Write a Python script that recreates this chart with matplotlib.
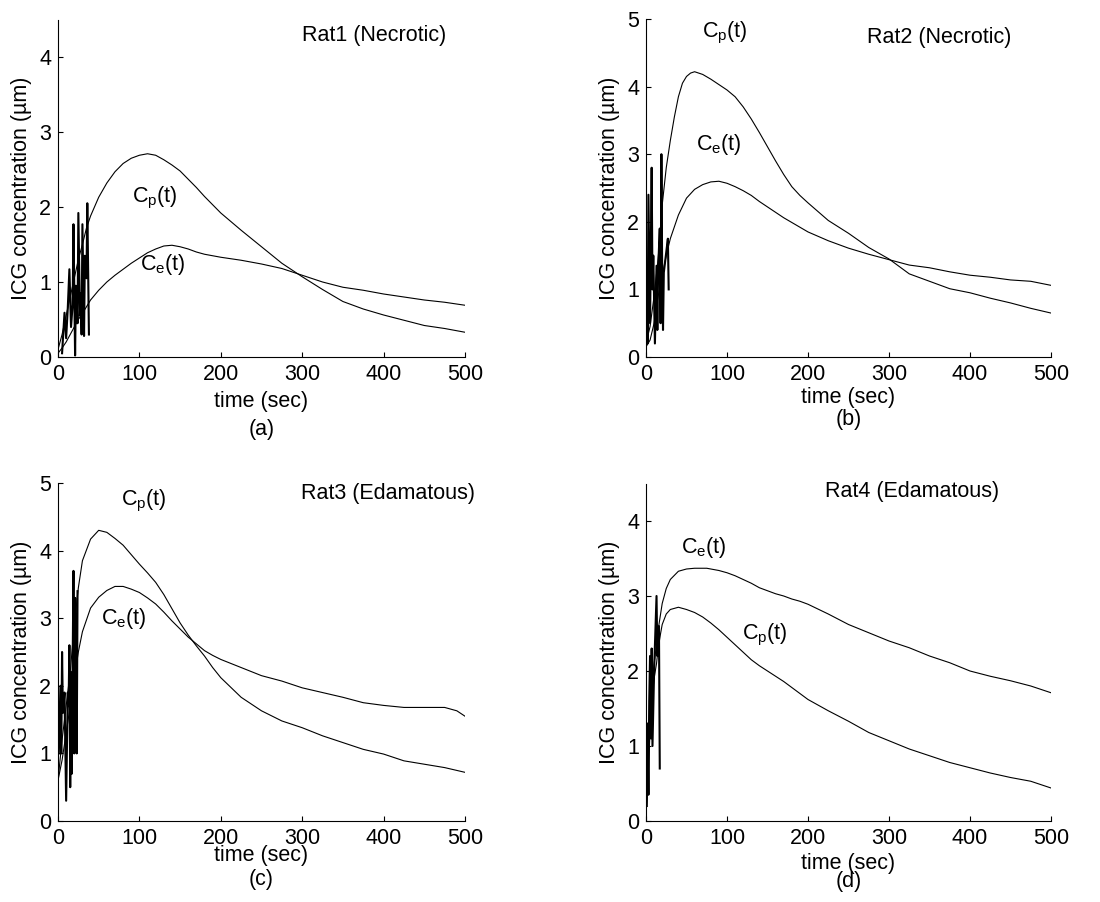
import matplotlib
matplotlib.use('Agg')
import matplotlib.pyplot as plt

plt.rcParams['font.family'] = ['Liberation Sans', 'DejaVu Sans']
plt.rcParams['mathtext.fontset'] = 'custom'
plt.rcParams['mathtext.rm'] = 'Liberation Sans'
plt.rcParams['mathtext.it'] = 'Liberation Sans'

FS = 15.5

# ---- Rat1 (Necrotic) ----
a_t_cp = [0, 5, 10, 15, 20, 25, 30, 35, 40, 50, 60, 70, 80, 90, 100, 110, 120, 130, 140, 150, 160,
          170, 180, 190, 200, 225, 250, 275, 300, 325, 350, 375, 400, 425, 450, 475, 500]
a_cp = [0.10, 0.30, 0.55, 0.80, 1.05, 1.30, 1.50, 1.72, 1.88, 2.13, 2.32, 2.47, 2.58, 2.65, 2.69, 2.71,
        2.69, 2.63, 2.56, 2.48, 2.37, 2.26, 2.14, 2.03, 1.92, 1.69, 1.47, 1.25, 1.07, 0.90, 0.74, 0.64,
        0.56, 0.49, 0.42, 0.38, 0.33]
a_t_ce = [0, 5, 10, 15, 20, 25, 30, 35, 40, 50, 60, 70, 80, 90, 100, 110, 120, 130, 140, 150, 160,
          170, 180, 190, 200, 225, 250, 275, 300, 325, 350, 375, 400, 425, 450, 475, 500]
a_ce = [0.05, 0.12, 0.20, 0.30, 0.40, 0.50, 0.58, 0.67, 0.76, 0.89, 1.00, 1.09, 1.17, 1.25, 1.32, 1.39,
        1.44, 1.48, 1.49, 1.47, 1.44, 1.40, 1.37, 1.35, 1.33, 1.29, 1.24, 1.18, 1.09, 1.00, 0.93, 0.89,
        0.84, 0.80, 0.76, 0.73, 0.69]
a_t_raw = [5, 8, 10, 12, 14, 16, 18, 19, 21, 22, 24, 25, 27, 28, 29, 30, 32, 33, 35, 36, 38]
a_raw = [0.05, 0.59, 0.25, 0.65, 1.17, 0.40, 0.70, 1.77, 0.02, 0.95, 0.45, 1.92, 0.55, 0.85, 0.30,
         1.77, 0.28, 1.35, 1.05, 2.05, 0.30]

# ---- Rat2 (Necrotic) ----
b_t_cp = [0, 5, 10, 15, 20, 25, 30, 35, 40, 45, 50, 55, 60, 70, 80, 90, 100, 110, 120, 130, 140,
          150, 160, 170, 180, 190, 200, 225, 250, 275, 300, 325, 350, 375, 400, 425, 450, 475, 500]
b_cp = [0.20, 0.45, 0.90, 1.45, 2.25, 2.80, 3.20, 3.55, 3.85, 4.05, 4.15, 4.20, 4.22, 4.18, 4.11, 4.03,
        3.95, 3.85, 3.70, 3.52, 3.32, 3.11, 2.90, 2.70, 2.52, 2.39, 2.28, 2.02, 1.83, 1.62, 1.45, 1.23,
        1.12, 1.01, 0.95, 0.87, 0.80, 0.72, 0.65]
b_t_ce = [0, 5, 10, 15, 20, 25, 30, 40, 50, 60, 70, 80, 90, 100, 110, 120, 130, 140, 150, 160, 170,
          180, 190, 200, 225, 250, 275, 300, 325, 350, 375, 400, 425, 450, 475, 500]
b_ce = [0.15, 0.25, 0.50, 0.90, 1.20, 1.50, 1.75, 2.10, 2.35, 2.48, 2.55, 2.59, 2.60, 2.57, 2.52, 2.46,
        2.39, 2.30, 2.22, 2.14, 2.06, 1.99, 1.92, 1.85, 1.72, 1.61, 1.52, 1.44, 1.36, 1.32, 1.26, 1.21,
        1.18, 1.14, 1.12, 1.06]
b_t_raw = [1, 2, 3, 5, 7, 8, 9, 11, 13, 14, 15, 17, 18, 19, 20, 21, 22, 25, 27, 28]
b_raw = [1.0, 0.2, 2.4, 0.5, 2.8, 1.0, 1.5, 0.2, 1.35, 0.4, 1.3, 1.9, 0.5, 3.0, 1.2, 0.4, 1.25,
         1.55, 1.75, 1.0]

# ---- Rat3 (Edamatous) ----
c_t_cp = [0, 5, 10, 15, 20, 25, 30, 40, 50, 60, 70, 80, 90, 100, 110, 120, 130, 140, 150, 160, 170,
          180, 190, 200, 225, 250, 275, 300, 325, 350, 375, 400, 425, 450, 475, 500]
c_cp = [0.60, 1.20, 1.70, 2.20, 2.90, 3.45, 3.85, 4.17, 4.30, 4.27, 4.18, 4.08, 3.94, 3.80, 3.67, 3.53,
        3.35, 3.14, 2.93, 2.75, 2.59, 2.44, 2.27, 2.12, 1.83, 1.63, 1.48, 1.38, 1.26, 1.16, 1.06, 0.99,
        0.89, 0.84, 0.79, 0.72]
c_t_ce = [0, 5, 10, 15, 20, 25, 30, 40, 50, 60, 70, 80, 90, 100, 110, 120, 130, 140, 150, 160, 170,
          180, 190, 200, 225, 250, 275, 300, 325, 350, 375, 400, 425, 450, 475, 490, 500]
c_ce = [0.60, 0.90, 1.30, 1.70, 2.10, 2.50, 2.80, 3.15, 3.31, 3.41, 3.47, 3.47, 3.43, 3.38, 3.30, 3.21,
        3.09, 2.96, 2.84, 2.72, 2.62, 2.52, 2.45, 2.39, 2.27, 2.15, 2.07, 1.97, 1.90, 1.83, 1.75, 1.71,
        1.68, 1.68, 1.68, 1.63, 1.55]
c_t_raw = [1, 3, 4, 5, 6, 8, 10, 12, 13, 14, 15, 16, 17, 18, 19, 20, 21, 22, 23, 24]
c_raw = [1.0, 2.0, 1.0, 2.5, 1.6, 1.9, 0.3, 1.9, 1.7, 2.6, 0.5, 2.2, 0.7, 2.3, 3.7, 1.0, 3.3, 2.3,
         1.0, 3.4]

# ---- Rat4 (Edamatous) ----
d_t_ce = [0, 3, 5, 8, 10, 13, 15, 20, 25, 30, 40, 50, 60, 75, 90, 100, 110, 120, 130, 140, 150, 160,
          170, 180, 190, 200, 225, 250, 275, 300, 325, 350, 375, 400, 425, 450, 475, 500]
d_ce = [0.10, 0.80, 1.40, 1.90, 2.10, 2.35, 2.55, 2.90, 3.10, 3.22, 3.33, 3.36, 3.37, 3.37, 3.34, 3.31,
        3.27, 3.22, 3.17, 3.11, 3.07, 3.03, 3.00, 2.96, 2.93, 2.89, 2.76, 2.62, 2.51, 2.40, 2.31, 2.20,
        2.11, 2.00, 1.93, 1.87, 1.80, 1.71]
d_t_cp = [0, 3, 5, 8, 10, 13, 15, 18, 20, 25, 30, 40, 50, 60, 70, 80, 90, 100, 110, 120, 130, 140,
          150, 160, 170, 180, 190, 200, 225, 250, 275, 300, 325, 350, 375, 400, 425, 450, 475, 500]
d_cp = [0.10, 0.70, 1.20, 1.70, 1.90, 2.10, 2.30, 2.50, 2.62, 2.76, 2.82, 2.85, 2.82, 2.78, 2.72, 2.64,
        2.55, 2.45, 2.35, 2.25, 2.15, 2.07, 2.00, 1.93, 1.86, 1.78, 1.70, 1.62, 1.47, 1.33, 1.18, 1.07,
        0.96, 0.87, 0.78, 0.71, 0.64, 0.58, 0.53, 0.44]
d_t_raw = [1, 2, 3, 4, 5, 6, 7, 8, 10, 13, 14, 16, 17]
d_raw = [0.2, 1.3, 0.35, 1.6, 2.2, 1.1, 2.3, 1.0, 2.0, 3.0, 2.2, 2.6, 0.7]

W, H = 1100, 902
fig = plt.figure(figsize=(W / 100, H / 100), dpi=100)


def add_axes(left, right, top, bottom):
    return fig.add_axes([left / W, 1 - bottom / H, (right - left) / W, (bottom - top) / H])


panels = [
    dict(box=(58, 465, 19.5, 357), ymax=4.5, yticks=[0, 1, 2, 3, 4], title='Rat1 (Necrotic)',
         title_xy=(300, 4.29), tag='(a)', xl_y=402, tag_y=429,
         curves=[(a_t_cp, a_cp), (a_t_ce, a_ce)], raw=(a_t_raw, a_raw),
         labels=[('p', 91, 2.12), ('e', 101, 1.23)]),
    dict(box=(646, 1051, 19, 357), ymax=5, yticks=[0, 1, 2, 3, 4, 5], title='Rat2 (Necrotic)',
         title_xy=(273, 4.72), tag='(b)', xl_y=397, tag_y=419,
         curves=[(b_t_cp, b_cp), (b_t_ce, b_ce)], raw=(b_t_raw, b_raw),
         labels=[('p', 69, 4.80), ('e', 62, 3.14)]),
    dict(box=(58, 465, 483, 821), ymax=5, yticks=[0, 1, 2, 3, 4, 5], title='Rat3 (Edamatous)',
         title_xy=(299, 4.84), tag='(c)', xl_y=856, tag_y=879,
         curves=[(c_t_cp, c_cp), (c_t_ce, c_ce)], raw=(c_t_raw, c_raw),
         labels=[('p', 78, 4.73), ('e', 53, 2.99)]),
    dict(box=(646, 1051, 483.5, 821), ymax=4.5, yticks=[0, 1, 2, 3, 4], title='Rat4 (Edamatous)',
         title_xy=(221, 4.40), tag='(d)', xl_y=864, tag_y=882,
         curves=[(d_t_ce, d_ce), (d_t_cp, d_cp)], raw=(d_t_raw, d_raw),
         labels=[('e', 43, 3.65), ('p', 119, 2.48)]),
]

for p in panels:
    left, right, top, bottom = p['box']
    ax = add_axes(left, right, top, bottom)
    for t, v in p['curves']:
        ax.plot(t, v, color='black', linewidth=0.8)
    ax.plot(p['raw'][0], p['raw'][1], color='black', linewidth=1.5)

    ax.set_xlim(0, 500)
    ax.set_ylim(0, p['ymax'])
    ax.set_xticks([0, 100, 200, 300, 400, 500])
    ax.set_yticks(p['yticks'])
    ax.spines['top'].set_visible(False)
    ax.spines['right'].set_visible(False)
    for s in ('left', 'bottom'):
        ax.spines[s].set_linewidth(0.8)
    ax.tick_params(direction='in', length=3.5, width=0.8, labelsize=FS, pad=5)

    ax.set_ylabel(u'ICG concentration (\u00b5m)', fontsize=FS, va='center')
    ax.yaxis.set_label_coords(-36 / (right - left), 0.5)
    ax.set_xlabel('time (sec)', fontsize=FS, va='center')
    ax.xaxis.set_label_coords(0.5, -(p['xl_y'] - bottom) / (bottom - top))

    fig.text((left + right) / 2 / W, 1 - p['tag_y'] / H, p['tag'], fontsize=FS,
             ha='center', va='center')

    ax.text(p['title_xy'][0], p['title_xy'][1], p['title'], fontsize=FS, ha='left', va='center')
    for sub, tx, ty in p['labels']:
        ax.text(tx, ty, r'C$_\mathregular{%s}$(t)' % sub, fontsize=FS, ha='left', va='center')

fig.savefig('out.png', dpi=100)
